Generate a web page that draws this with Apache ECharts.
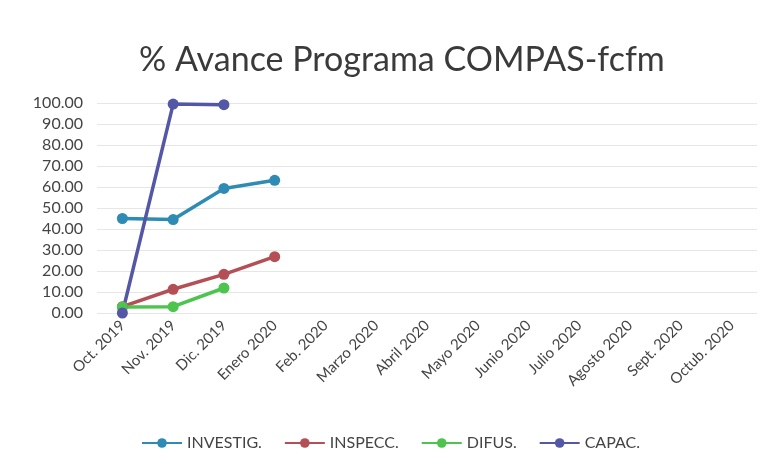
<!DOCTYPE html>
<html>
<head>
<meta charset="utf-8">
<script src="https://cdn.jsdelivr.net/npm/echarts@6/dist/echarts.min.js"></script>
<style>
  html, body { margin: 0; padding: 0; background: #fff; }
  #chart { width: 770px; height: 475px; }
</style>
</head>
<body>
<div id="chart"></div>
<script>
// categorias del eje x
const months = ['Oct. 2019', 'Nov. 2019', 'Dic. 2019', 'Enero 2020', 'Feb. 2020', 'Marzo 2020',
  'Abril 2020', 'Mayo 2020', 'Junio 2020', 'Julio 2020', 'Agosto 2020', 'Sept. 2020', 'Octub. 2020'];

// valores
const investig = [45.0, 44.5, 59.3, 63.2];
const inspecc = [3.0, 11.3, 18.4, 26.8];
const difus = [2.9, 3.0, 11.9];
const capac = [0, 99.5, 99.2];

const seriesNames = ['INVESTIG.', 'INSPECC.', 'DIFUS.', 'CAPAC.'];
const seriesColors = ['#2e8bb3', '#b34f55', '#4cc44e', '#5457a6'];
const seriesData = [investig, inspecc, difus, capac];

const myChart = echarts.init(document.getElementById('chart'));

const option = {
  backgroundColor: '#fff',
  animation: false,
  textStyle: { fontFamily: 'Lato, "Open Sans", sans-serif' },
  title: {
    text: '% Avance Programa COMPAS-fcfm',
    left: 134,
    top: 38,
    textStyle: { fontSize: 34, fontWeight: 'normal', color: '#3a3a3a', fontFamily: 'Lato, "Open Sans", sans-serif' }
  },
  legend: {
    top: 430,
    left: 136,
    itemWidth: 40,
    itemHeight: 12,
    itemGap: 22,
    textStyle: { fontSize: 16, color: '#444' },
    data: seriesNames
  },
  grid: { left: 97, right: 13, top: 103, bottom: 162 },
  xAxis: {
    type: 'category',
    data: months,
    boundaryGap: true,
    axisLine: { show: false },
    axisTick: { show: false },
    axisLabel: { rotate: 45, fontSize: 15, color: '#444', margin: 10, interval: 0 }
  },
  yAxis: {
    type: 'value',
    min: 0,
    max: 100,
    interval: 10,
    axisLabel: { fontSize: 16, color: '#444', formatter: (v) => v.toFixed(2), margin: 14 },
    splitLine: { lineStyle: { color: '#e6e6e6' } },
    axisLine: { show: false }
  },
  series: seriesData.map((d, i) => ({
    name: seriesNames[i],
    type: 'line',
    data: d,
    color: seriesColors[i],
    symbol: 'circle',
    symbolSize: 11,
    lineStyle: { width: 3.5 }
  }))
};

myChart.setOption(option);
</script>
</body>
</html>
